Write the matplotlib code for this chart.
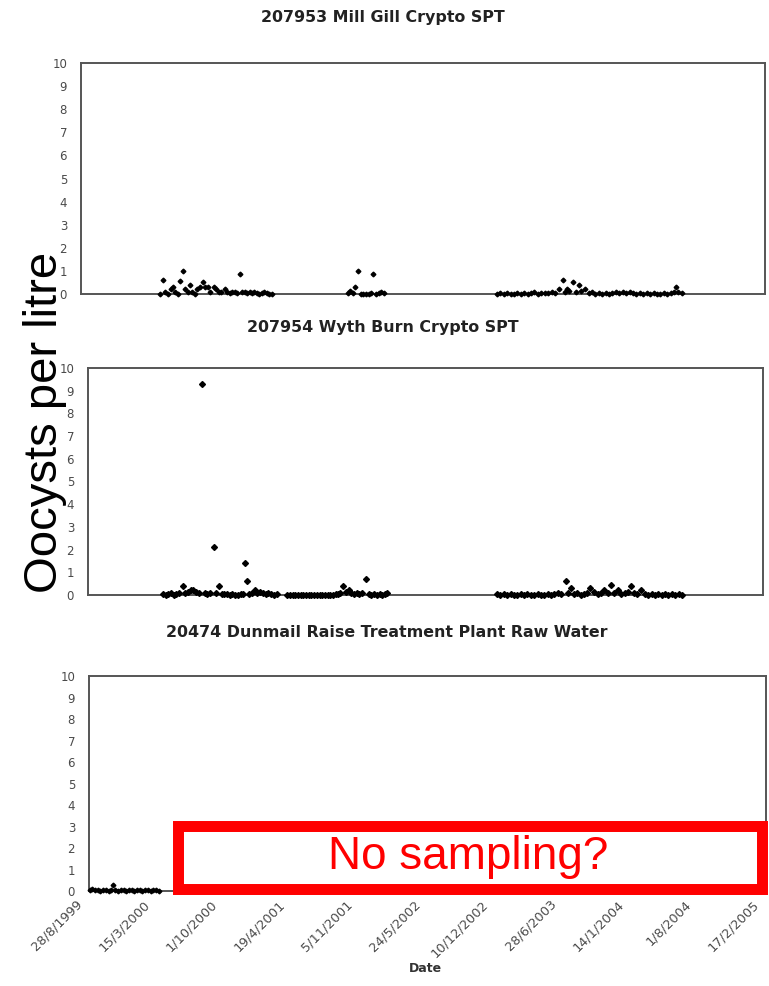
import matplotlib.pyplot as plt
import matplotlib.transforms as mtransforms
from matplotlib.patches import Rectangle
from datetime import datetime, timedelta

# x axis: days since 28/8/1999, ticks every 200 days
tick_labels = ['28/8/1999', '15/3/2000', '1/10/2000', '19/4/2001', '5/11/2001',
               '24/5/2002', '10/12/2002', '28/6/2003', '14/1/2004', '1/8/2004',
               '17/2/2005']
y_ticks = [0, 1, 2, 3, 4, 5, 6, 7, 8, 9, 10]

titles = ['207953 Mill Gill Crypto SPT',
          '207954 Wyth Burn Crypto SPT',
          '20474 Dunmail Raise Treatment Plant Raw Water']

# 207953 Mill Gill
mill_days = [231, 240, 247, 255, 262, 269, 276, 283, 289, 298, 305, 312, 319, 326,
             333, 340, 347, 357, 364, 371, 378, 389, 396, 403, 410, 421, 428, 435,
             442, 449, 456, 465, 472, 479, 486, 493, 500, 507, 514, 521, 528, 535,
             544, 551, 558,
             781, 786, 794, 801, 810, 818, 826, 834, 842, 849, 854, 862, 870, 878, 886,
             1216, 1226, 1236, 1246, 1256, 1266, 1276, 1286, 1296, 1306, 1316, 1326,
             1336, 1346, 1356, 1366, 1376, 1386, 1398, 1409, 1416, 1421, 1428, 1439,
             1446, 1456, 1463, 1474, 1484, 1494, 1504, 1514, 1524, 1534, 1544, 1554,
             1564, 1574, 1584, 1594, 1604, 1614, 1624, 1634, 1644, 1654, 1664, 1674,
             1684, 1694, 1704, 1714, 1724, 1733, 1740, 1747, 1757]
mill_vals = [0.0, 0.6, 0.1, 0.0, 0.2, 0.3, 0.1, 0.0, 0.55, 1.0, 0.2, 0.1, 0.4, 0.1,
             0.0, 0.2, 0.3, 0.5, 0.3, 0.3, 0.1, 0.3, 0.2, 0.1, 0.1, 0.2, 0.1, 0.05,
             0.1, 0.1, 0.05, 0.85, 0.1, 0.1, 0.05, 0.1, 0.05, 0.1, 0.05, 0.0, 0.05, 0.1,
             0.05, 0.0, 0.0,
             0.05, 0.15, 0.05, 0.3, 1.0, 0.0, 0.0, 0.0, 0.0, 0.05, 0.85, 0.0, 0.05, 0.1, 0.05,
             0.0, 0.05, 0.0, 0.05, 0.0, 0.0, 0.05, 0.0, 0.05, 0.0, 0.05, 0.1,
             0.0, 0.05, 0.05, 0.05, 0.1, 0.05, 0.2, 0.6, 0.1, 0.2, 0.15, 0.5,
             0.1, 0.4, 0.15, 0.2, 0.05, 0.1, 0.0, 0.05, 0.0, 0.05, 0.0, 0.05,
             0.1, 0.05, 0.1, 0.05, 0.1, 0.05, 0.0, 0.05, 0.0, 0.05, 0.0, 0.05,
             0.0, 0.0, 0.05, 0.0, 0.05, 0.1, 0.3, 0.1, 0.05]

# 207954 Wyth Burn
wyth_days = [222, 230, 238, 246, 254, 262, 270, 281, 288, 296, 304, 312, 320, 330,
             338, 346, 354, 362, 373, 380, 388, 396, 404, 412, 420, 428, 436, 444,
             452, 459, 465, 471, 478, 486, 494, 502, 510, 518, 526, 534, 542, 550, 560,
             590, 598, 606, 614, 622, 630, 638, 646, 654, 662, 670, 678, 686, 694,
             702, 710, 718, 726, 734, 742, 748, 756, 764, 772, 780, 788, 796, 804,
             812, 824, 832, 840, 848, 856, 864, 872, 880, 886,
             1212, 1222, 1232, 1242, 1252, 1262, 1272, 1282, 1292, 1302, 1312, 1322,
             1332, 1342, 1352, 1362, 1372, 1382, 1392, 1402, 1416, 1423, 1431, 1440,
             1450, 1460, 1470, 1480, 1487, 1500, 1510, 1520, 1530, 1540, 1550, 1560,
             1570, 1580, 1590, 1600, 1609, 1618, 1628, 1640, 1650, 1660, 1670, 1680,
             1690, 1700, 1710, 1720, 1730, 1740, 1750, 1760]
wyth_vals = [0.05, 0.0, 0.05, 0.1, 0.0, 0.05, 0.1, 0.4, 0.1, 0.15, 0.2, 0.2, 0.15, 0.1,
             9.3, 0.1, 0.05, 0.1, 2.1, 0.1, 0.4, 0.05, 0.05, 0.05, 0.0, 0.05, 0.0, 0.0,
             0.05, 0.05, 1.4, 0.6, 0.05, 0.1, 0.2, 0.1, 0.15, 0.1, 0.05, 0.1, 0.05, 0.0, 0.05,
             0.0, 0.0, 0.0, 0.0, 0.0, 0.0, 0.0, 0.0, 0.0, 0.0, 0.0, 0.0, 0.0, 0.0,
             0.0, 0.0, 0.0, 0.0, 0.05, 0.05, 0.1, 0.4, 0.15, 0.2, 0.1, 0.05, 0.1, 0.05,
             0.1, 0.7, 0.05, 0.0, 0.05, 0.0, 0.05, 0.0, 0.05, 0.1,
             0.05, 0.0, 0.05, 0.0, 0.05, 0.0, 0.0, 0.05, 0.0, 0.05, 0.0, 0.0,
             0.05, 0.0, 0.0, 0.05, 0.0, 0.05, 0.1, 0.05, 0.6, 0.1, 0.3, 0.05,
             0.1, 0.0, 0.05, 0.1, 0.3, 0.15, 0.05, 0.1, 0.2, 0.1, 0.45, 0.1,
             0.2, 0.05, 0.1, 0.15, 0.4, 0.1, 0.05, 0.2, 0.05, 0.0, 0.05, 0.0,
             0.05, 0.0, 0.05, 0.0, 0.05, 0.0, 0.05, 0.0]

# 20474 Dunmail Raise
dun_days = [2, 10, 18, 26, 34, 42, 50, 58, 66, 71, 78, 86, 94, 102, 110, 118, 126,
            134, 142, 150, 158, 166, 174, 182, 190, 198, 206]
dun_vals = [0.05, 0.1, 0.05, 0.05, 0.0, 0.05, 0.05, 0.0, 0.05, 0.3, 0.05, 0.0, 0.05,
            0.05, 0.0, 0.05, 0.05, 0.0, 0.05, 0.05, 0.0, 0.05, 0.05, 0.0, 0.05, 0.05, 0.0]

start = datetime(1999, 8, 28)
tick_pos = [datetime.strptime(s, '%d/%m/%Y') for s in tick_labels]

fig = plt.figure(figsize=(7.69, 9.86), dpi=100)
plt.rcParams['font.family'] = ['Liberation Sans', 'DejaVu Sans']

boxes = [[0.1053, 0.7018, 0.8895, 0.2343],
         [0.1144, 0.3966, 0.8778, 0.2302],
         [0.1157, 0.0963, 0.8804, 0.2181]]
series = [(mill_days, mill_vals, 2.4), (wyth_days, wyth_vals, 3.0), (dun_days, dun_vals, 2.4)]

for i, (box, (days, vals, ms)) in enumerate(zip(boxes, series)):
    ax = fig.add_axes(box)
    dates = [start + timedelta(days=d) for d in days]
    ax.plot(dates, vals, linestyle='none', marker='D', markersize=ms,
            color='black', clip_on=False, zorder=3)
    ax.set_xlim(tick_pos[0], tick_pos[-1])
    ax.set_ylim(0, 10)
    ax.set_yticks(y_ticks)
    ax.set_yticklabels([str(v) for v in y_ticks], family='DejaVu Sans')
    ax.set_xticks(tick_pos)
    ax.tick_params(axis='y', length=0, pad=10, labelsize=8.5, labelcolor='#4a4a4a')
    ax.tick_params(axis='x', length=0, pad=8, labelsize=9.3, labelcolor='#4a4a4a')
    if i == 2:
        ax.set_xticklabels(tick_labels, rotation=45, ha='right', va='center',
                           rotation_mode='anchor', family='DejaVu Sans')
        shift = mtransforms.ScaledTranslation(-9 / 100, 0, fig.dpi_scale_trans)
        for lab in ax.get_xticklabels():
            lab.set_transform(lab.get_transform() + shift)
    else:
        ax.set_xticklabels([])
    for sp in ax.spines.values():
        sp.set_color('#555555')
        sp.set_linewidth(1.4)

title_pos = [(0.498, 0.982), (0.498, 0.668), (0.503, 0.359)]
for t, (tx, ty) in zip(titles, title_pos):
    fig.text(tx, ty, t, ha='center', va='center', fontsize=11.4, fontweight='bold',
             color='#222222', family='DejaVu Sans')

fig.text(0.553, 0.018, 'Date', ha='center', va='center', fontsize=9,
         fontweight='bold', color='#333333', family='DejaVu Sans')

fig.text(0.058, 0.572, 'Oocysts per litre', rotation=90, ha='center', va='center',
         fontsize=34, color='black')

rect = Rectangle((0.2321, 0.0979), 0.9909 - 0.2321, 0.1623 - 0.0979,
                 transform=fig.transFigure, facecolor='white', edgecolor='#ff0000',
                 linewidth=7.9, zorder=10)
fig.patches.append(rect)
fig.text(0.6086, 0.1308, 'No sampling?', ha='center', va='center', fontsize=33,
         color='#ff0000', zorder=11)

fig.savefig('out.png', dpi=100)
